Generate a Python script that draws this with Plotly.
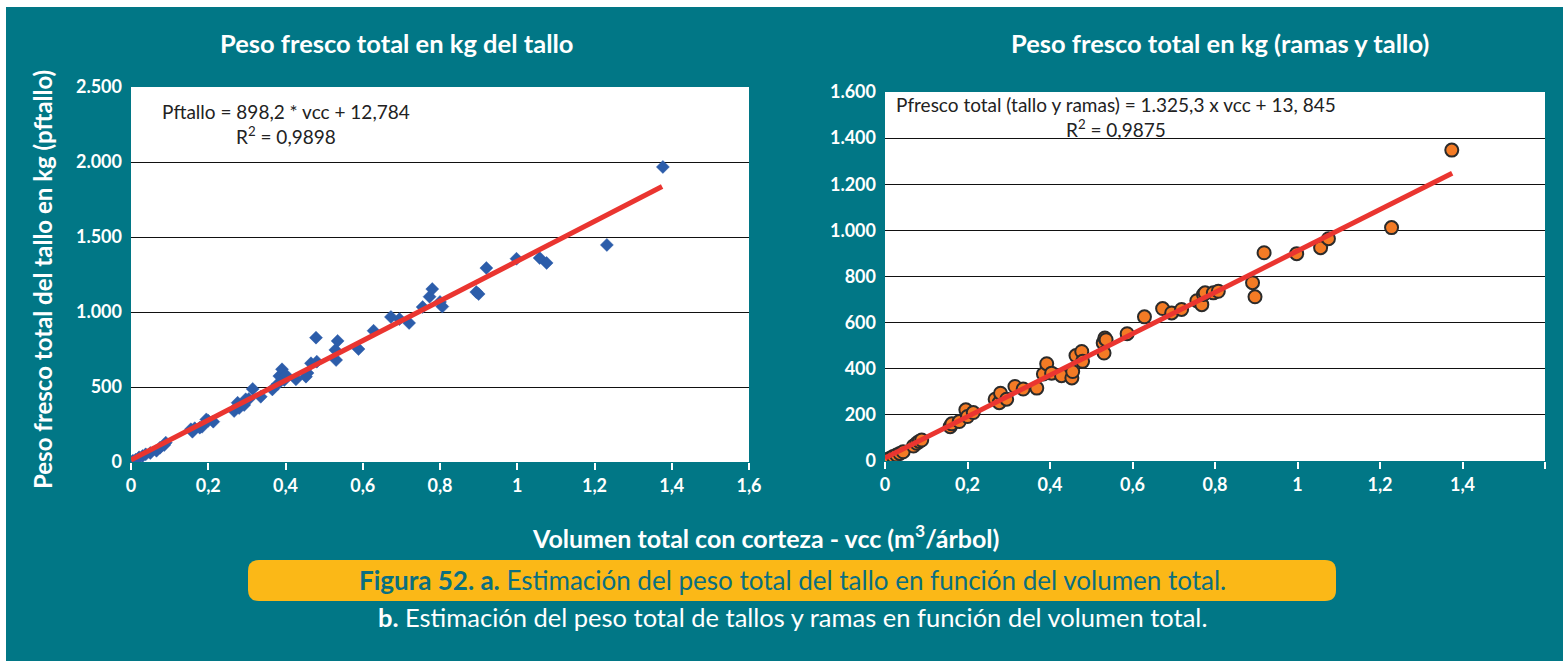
import plotly.graph_objects as go

W, H = 1563, 661
TEAL = "#017786"
YELLOW = "#FBB817"

# --- data ---
tallo_vcc = [0, 0.005, 0.012, 0.021, 0.03, 0.038, 0.05, 0.066, 0.075, 0.086, 0.09,
             0.155, 0.159, 0.165, 0.178, 0.184, 0.195, 0.2, 0.213,
             0.267, 0.275, 0.28, 0.276, 0.293, 0.297, 0.305, 0.315, 0.336,
             0.366, 0.38, 0.384, 0.391, 0.397, 0.401, 0.427, 0.453, 0.457, 0.466, 0.479, 0.481,
             0.529, 0.531, 0.535, 0.589, 0.628, 0.673, 0.695, 0.72, 0.755, 0.773, 0.78, 0.8,
             0.806, 0.894, 0.9, 0.92, 0.998, 1.058, 1.076, 1.232, 1.377]
tallo_peso = [0, 8, 15, 31, 40, 51, 60, 75, 95, 113, 129,
              218, 202, 225, 229, 235, 284, 275, 269,
              340, 370, 360, 395, 380, 418, 420, 487, 435,
              484, 520, 573, 618, 547, 580, 551, 569, 593, 658, 829, 669,
              747, 680, 807, 753, 875, 967, 953, 927, 1033, 1102, 1153, 1067,
              1036, 1133, 1120, 1293, 1355, 1360, 1327, 1447, 1967]

total_vcc = [0, 0.005, 0.012, 0.02, 0.028, 0.036, 0.044, 0.069, 0.077, 0.083, 0.089,
             0.158, 0.162, 0.18, 0.196, 0.2, 0.214,
             0.267, 0.277, 0.28, 0.295, 0.315, 0.335, 0.368,
             0.384, 0.392, 0.404, 0.428, 0.453, 0.455, 0.463, 0.477, 0.479,
             0.529, 0.531, 0.533, 0.536, 0.587, 0.629, 0.673, 0.695, 0.719, 0.756, 0.768,
             0.772, 0.776, 0.796, 0.808, 0.891, 0.897, 0.919, 0.998, 1.056, 1.075, 1.228, 1.374]
total_peso = [0, 5, 12, 20, 26, 33, 40, 65, 77, 85, 91,
              149, 161, 171, 222, 193, 210,
              268, 253, 294, 268, 323, 312, 316,
              377, 422, 381, 370, 360, 388, 457, 475, 432,
              512, 468, 533, 526, 552, 625, 661, 642, 657, 695, 678,
              722, 729, 729, 736, 773, 712, 903, 899, 925, 964, 1012, 1348]

# fitted lines as drawn (slope, intercept) and their x extent
line_x = [0, 1.375]
tallo_fit = (1325.3, 13.845)
total_fit = (898.2, 12.784)

x_ticks_a = [0, 0.2, 0.4, 0.6, 0.8, 1.0, 1.2, 1.4, 1.6]
x_labels_a = ["0", "0,2", "0,4", "0,6", "0,8", "1", "1,2", "1,4", "1,6"]
x_ticks_b = [0, 0.2, 0.4, 0.6, 0.8, 1.0, 1.2, 1.4]
x_labels_b = ["0", "0,2", "0,4", "0,6", "0,8", "1", "1,2", "1,4"]
y_ticks_a = [0, 500, 1000, 1500, 2000, 2500]
y_labels_a = ["0", "500", "1.000", "1.500", "2.000", "2.500"]
y_ticks_b = [0, 200, 400, 600, 800, 1000, 1200, 1400, 1600]
y_labels_b = ["0", "200", "400", "600", "800", "1.000", "1.200", "1.400", "1.600"]


def px(x):
    return x / W


def py(y):
    return 1 - y / H


fig = go.Figure()

fig.add_trace(go.Scatter(
    x=tallo_vcc, y=tallo_peso, mode="markers", xaxis="x", yaxis="y",
    marker=dict(symbol="diamond", size=10, color="#2C5DAA",
                line=dict(color="#2C5DAA", width=0.5))
))
fig.add_trace(go.Scatter(
    x=line_x, y=[tallo_fit[0] * v + tallo_fit[1] for v in line_x],
    mode="lines", xaxis="x", yaxis="y",
    line=dict(color="#EA3530", width=5)
))
fig.add_trace(go.Scatter(
    x=total_vcc, y=total_peso, mode="markers", xaxis="x2", yaxis="y2",
    marker=dict(symbol="circle", size=13, color="#F47B25",
                line=dict(color="#2B2B2B", width=2))
))
fig.add_trace(go.Scatter(
    x=line_x, y=[total_fit[0] * v + total_fit[1] for v in line_x],
    mode="lines", xaxis="x2", yaxis="y2",
    line=dict(color="#EA3530", width=5)
))

tick_font = dict(family="Lato", size=18, color="white", weight="bold")
xcommon = dict(range=[0, 1.6], tickmode="array", ticks="outside",
               ticklen=7, tickcolor="white", tickwidth=2, showgrid=False,
               zeroline=False, showline=False, tickfont=tick_font,
               automargin=False, fixedrange=True)
ycommon = dict(tickmode="array", ticks="", showgrid=True, gridcolor="#111111",
               gridwidth=1, zeroline=False, showline=False, tickfont=tick_font,
               ticklabelstandoff=8, automargin=False, fixedrange=True)

fig.update_layout(
    template="none",
    width=W, height=H, autosize=False,
    margin=dict(l=0, r=0, t=0, b=0, pad=0, autoexpand=False),
    paper_bgcolor=TEAL, plot_bgcolor="white",
    showlegend=False,
    xaxis=dict(domain=[px(131), px(749)], anchor="y", tickvals=x_ticks_a,
               ticktext=x_labels_a, **xcommon),
    yaxis=dict(domain=[py(462), py(87)], anchor="x", range=[0, 2500],
               tickvals=y_ticks_a, ticktext=y_labels_a, **ycommon),
    xaxis2=dict(domain=[px(885), px(1545)], anchor="y2", tickvals=x_ticks_b,
                ticktext=x_labels_b,
                minor=dict(tickvals=[1.6], ticks="outside", ticklen=7,
                           tickcolor="white", tickwidth=2, showgrid=False),
                **xcommon),
    yaxis2=dict(domain=[py(461), py(92)], anchor="x2", range=[0, 1600],
                tickvals=y_ticks_b, ticktext=y_labels_b, **ycommon),
)

# white strips along top and left edges
fig.add_shape(type="rect", xref="paper", yref="paper", x0=0, x1=1, y0=py(7), y1=1,
              fillcolor="white", line_width=0, layer="below")
fig.add_shape(type="rect", xref="paper", yref="paper", x0=0, x1=px(6), y0=0, y1=1,
              fillcolor="white", line_width=0, layer="below")

# rounded caption box
bx0, bx1, by0, by1, r = 248, 1336, 560, 601, 11
path = (f"M {px(bx0 + r)} {py(by0)} L {px(bx1 - r)} {py(by0)} "
        f"Q {px(bx1)} {py(by0)} {px(bx1)} {py(by0 + r)} L {px(bx1)} {py(by1 - r)} "
        f"Q {px(bx1)} {py(by1)} {px(bx1 - r)} {py(by1)} L {px(bx0 + r)} {py(by1)} "
        f"Q {px(bx0)} {py(by1)} {px(bx0)} {py(by1 - r)} L {px(bx0)} {py(by0 + r)} "
        f"Q {px(bx0)} {py(by0)} {px(bx0 + r)} {py(by0)} Z")
fig.add_shape(type="path", path=path, xref="paper", yref="paper",
              fillcolor=YELLOW, line_width=0)


def note(x, y, text, size, color="white", bold=False, angle=0, family="Lato"):
    fig.add_annotation(
        x=px(x), y=py(y), xref="paper", yref="paper", showarrow=False,
        text=f"<b>{text}</b>" if bold else text, textangle=angle,
        font=dict(family=family, size=size, color=color),
        xanchor="center", yanchor="middle", align="center"
    )


note(396, 43, "Peso fresco total en kg del tallo", 25.5, bold=True)
note(1220, 43, "Peso fresco total en kg (ramas y tallo)", 25.5, bold=True)
note(43, 280, "Peso fresco total del tallo en kg (pftallo)", 24, bold=True, angle=-90)
note(765, 536, "Volumen total con corteza - vcc (m<sup>3</sup>/árbol)", 25, bold=True)

note(286, 124, "Pftallo = 898,2 * vcc + 12,784<br>R<sup>2</sup> = 0,9898", 19, color="#222222")
note(1116, 117, "Pfresco total (tallo y ramas) = 1.325,3 x vcc + 13, 845<br>R<sup>2</sup> = 0,9875",
     19, color="#222222")

note(792, 580, "<b>Figura 52. a.</b> Estimación del peso total del tallo en función del volumen total.",
     26, color="#0A6F80")
note(792, 617, "<b>b.</b> Estimación del peso total de tallos y ramas en función del volumen total.",
     25.5, color="white")

# drop the browser's default page margin so the figure sits at the top-left corner
fig.write_html("out.html", config={"displayModeBar": False},
               post_script="document.body.style.margin='0px';")
